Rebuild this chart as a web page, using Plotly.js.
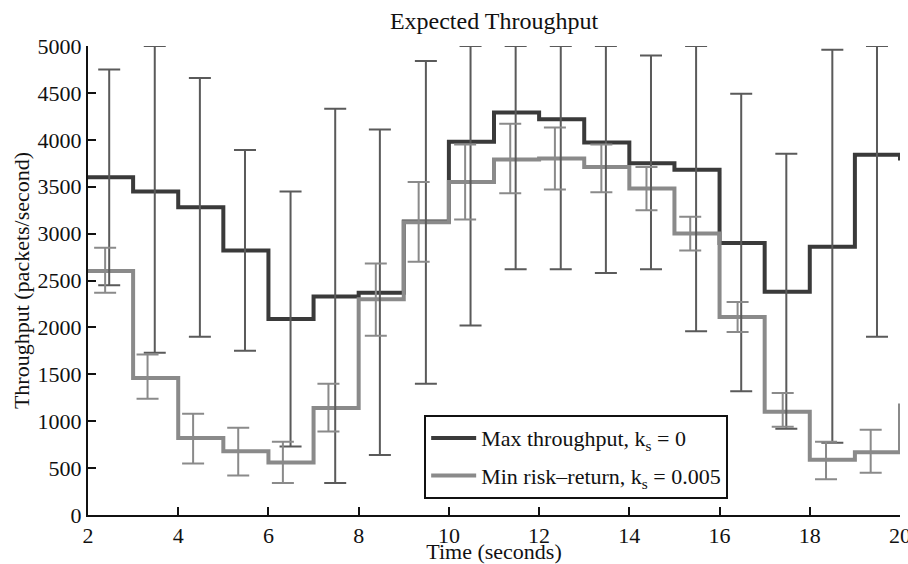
<!DOCTYPE html>
<html>
<head>
<meta charset="utf-8">
<script src="https://cdn.plot.ly/plotly-3.0.1.min.js"></script>
<style>html,body{margin:0;padding:0;background:#fff;}#chart{width:908px;height:564px;}</style>
</head>
<body>
<div id="chart"></div>
<script>
// Step edges (seconds)
const stepX = [2,3,4,5,6,7,8,9,10,11,12,13,14,15,16,17,18,19,20];
// Max throughput, k_s = 0 (value on each 1-s interval, last entry = end point at t=20)
const maxThr = [3600,3450,3280,2820,2090,2330,2370,3130,3980,4290,4220,3970,3750,3680,2900,2380,2860,3840,3780];
// Min risk-return, k_s = 0.005
const minRisk = [2600,1460,820,680,560,1140,2300,3120,3550,3790,3800,3710,3480,3000,2110,1100,590,670,1190];

// Error bar positions and bounds
const maxBarX = [2.47,3.48,4.48,5.48,6.49,7.48,8.47,9.49,10.48,11.48,12.48,13.48,14.48,15.48,16.48,17.48,18.5,19.49];
const maxBarUp = [4750,5000,4660,3890,3450,4330,4110,4840,5000,5000,5000,5000,4900,5000,4490,3850,4960,5000];
const maxBarLow = [2450,1730,1900,1750,730,340,640,1400,2020,2620,2620,2580,2620,1960,1320,920,770,1900];

const minBarX = [2.38,3.32,4.33,5.33,6.32,7.33,8.38,9.33,10.36,11.36,12.35,13.38,14.38,15.35,16.4,17.4,18.36,19.35];
const minBarUp = [2850,1710,1080,930,780,1400,2680,3550,3950,4170,4130,3950,3710,3180,2270,1300,780,910];
const minBarLow = [2370,1240,550,420,340,890,1910,2700,3150,3430,3470,3440,3250,2820,1950,940,380,450];

const xTicks = [2,4,6,8,10,12,14,16,18,20];
const yTicks = [0,500,1000,1500,2000,2500,3000,3500,4000,4500,5000];

const FONT = "Liberation Serif, Times New Roman, serif";
const DARK = "#3a3a3a", LIGHT = "#8a8a8a";
const FS = 22;

const maxC = maxThr.slice(0, maxBarX.length);
const minC = minRisk.slice(0, minBarX.length);

const traces = [
  {x: stepX, y: maxThr, mode: 'lines', line: {shape: 'hv', color: DARK, width: 4},
   name: 'Max throughput, k<sub>s</sub> = 0', legendgroup: 'a'},
  {x: stepX, y: minRisk, mode: 'lines', line: {shape: 'hv', color: LIGHT, width: 4},
   name: 'Min risk–return, k<sub>s</sub> = 0.005', legendgroup: 'b'},
  {x: maxBarX, y: maxC, mode: 'markers', marker: {size: 1, opacity: 0}, showlegend: false, hoverinfo: 'skip',
   error_y: {type: 'data', symmetric: false,
     array: maxBarUp.map((u,i)=>u-maxC[i]), arrayminus: maxBarLow.map((l,i)=>maxC[i]-l),
     color: '#5a5a5a', thickness: 2, width: 11}},
  {x: minBarX, y: minC, mode: 'markers', marker: {size: 1, opacity: 0}, showlegend: false, hoverinfo: 'skip',
   error_y: {type: 'data', symmetric: false,
     array: minBarUp.map((u,i)=>u-minC[i]), arrayminus: minBarLow.map((l,i)=>minC[i]-l),
     color: '#8a8a8a', thickness: 2, width: 11}}
];

const layout = {
  width: 908, height: 564,
  margin: {l: 88, r: 8, t: 46, b: 49},
  paper_bgcolor: '#fff', plot_bgcolor: '#fff',
  font: {family: FONT, size: FS, color: '#111'},
  title: {text: 'Expected Throughput', font: {family: FONT, size: 24, color: '#111'},
          x: 0.5, xref: 'paper', xanchor: 'center', y: 0.963, yref: 'container', yanchor: 'middle'},
  xaxis: {range: [2, 20], tickvals: xTicks, ticktext: xTicks.map(String),
          showline: true, linecolor: '#111', linewidth: 2, mirror: false,
          ticks: 'inside', ticklen: 8, tickwidth: 2, tickcolor: '#111',
          showgrid: false, zeroline: false, ticklabeloverflow: 'allow',
          tickfont: {family: FONT, size: FS, color: '#111'},
          title: {text: 'Time (seconds)', font: {family: FONT, size: FS, color: '#111'}, standoff: 0}},
  yaxis: {range: [0, 5000], tickvals: yTicks, ticktext: yTicks.map(String),
          showline: true, linecolor: '#111', linewidth: 2, mirror: false,
          ticks: 'inside', ticklen: 8, tickwidth: 2, tickcolor: '#111',
          showgrid: false, zeroline: false,
          tickfont: {family: FONT, size: FS, color: '#111'},
          title: {text: 'Throughput (packets/second)', font: {family: FONT, size: FS, color: '#111'}, standoff: 2}},
  showlegend: true,
  legend: {x: 0.414, y: 0.213, xanchor: 'left', yanchor: 'top',
           bgcolor: '#fff', bordercolor: '#111', borderwidth: 2,
           font: {family: FONT, size: FS, color: '#111'}, itemwidth: 45,
           traceorder: 'grouped', tracegroupgap: 6}
};

Plotly.newPlot('chart', traces, layout, {displayModeBar: false, staticPlot: true});
</script>
</body>
</html>
